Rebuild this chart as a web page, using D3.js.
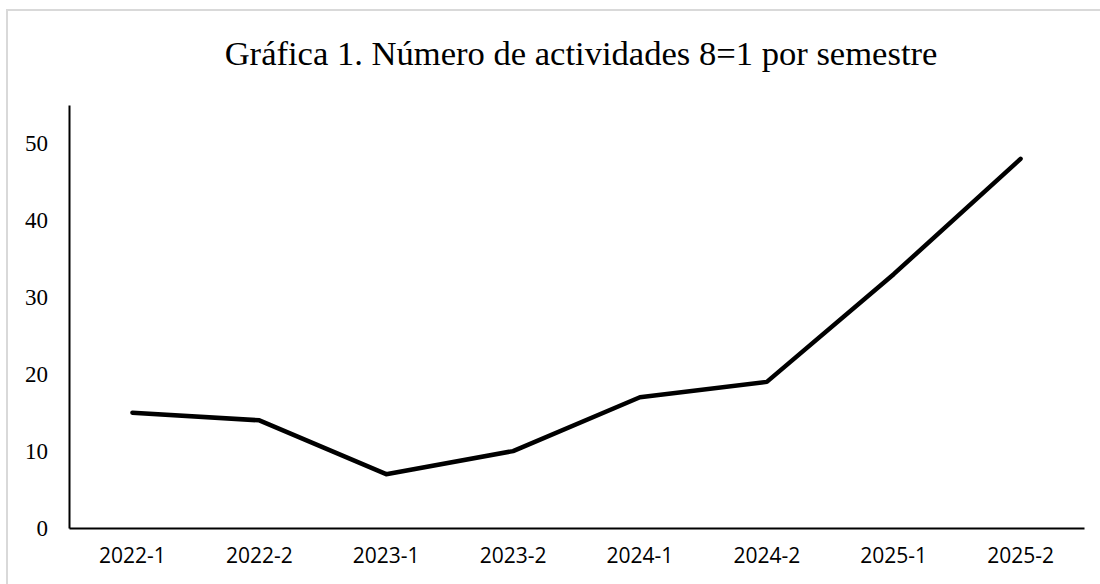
<!DOCTYPE html>
<html>
<head>
<meta charset="utf-8">
<script src="https://cdn.jsdelivr.net/npm/d3@7"></script>
<style>
  body { margin: 0; background: #fff; }
  svg { display: block; }
</style>
</head>
<body>
<script>
// semesters and number of activities
var semestres = ["2022-1", "2022-2", "2023-1", "2023-2", "2024-1", "2024-2", "2025-1", "2025-2"];
var actividades = [15, 14, 7, 10, 17, 19, 33, 48];
var yTicks = [0, 10, 20, 30, 40, 50];
var titulo = "Gráfica 1. Número de actividades 8=1 por semestre";

var width = 1100, height = 584;
var plotLeft = 69, plotRight = 1084, plotTop = 105, plotBottom = 528;

var svg = d3.select("body").append("svg")
    .attr("width", width)
    .attr("height", height);

// chart frame (only top and left edges fall inside the picture)
svg.append("rect")
    .attr("x", 7).attr("y", 10)
    .attr("width", 1200).attr("height", 700)
    .style("fill", "none")
    .style("stroke", "#d9d9d9")
    .style("stroke-width", 2);

svg.append("text")
    .attr("x", 581).attr("y", 65)
    .attr("text-anchor", "middle")
    .style("font-family", "'Liberation Serif', 'Times New Roman', serif")
    .style("font-size", "34.6px")
    .style("fill", "#000")
    .text(titulo);

var x = d3.scaleBand().domain(semestres).range([plotLeft, plotRight]);
var y = d3.scaleLinear().domain([0, 55]).range([plotBottom, plotTop]);

// y axis
var yAxis = svg.append("g")
    .attr("transform", "translate(" + plotLeft + ",0)")
    .call(d3.axisLeft(y).tickValues(yTicks).tickSize(0).tickPadding(21));
yAxis.select(".domain").attr("stroke", "#000").attr("stroke-width", 2);
yAxis.selectAll("text")
    .style("font-family", "'Liberation Serif', 'Times New Roman', serif")
    .style("font-size", "23px")
    .style("fill", "#000");

// x axis
var xAxis = svg.append("g")
    .attr("transform", "translate(0," + plotBottom + ")")
    .call(d3.axisBottom(x).tickSize(0).tickPadding(20));
xAxis.select(".domain").attr("stroke", "#000").attr("stroke-width", 2);
xAxis.selectAll("text")
    .style("font-family", "'Open Sans', 'Liberation Sans', sans-serif")
    .style("font-size", "21px")
    .style("fill", "#000");

var line = d3.line()
    .x(function(d, i) { return x(semestres[i]) + x.bandwidth() / 2; })
    .y(function(d) { return y(d); });

svg.append("path")
    .attr("d", line(actividades))
    .style("fill", "none")
    .style("stroke", "#000")
    .style("stroke-width", 4.5)
    .style("stroke-linecap", "round")
    .style("stroke-linejoin", "round");
</script>
</body>
</html>
